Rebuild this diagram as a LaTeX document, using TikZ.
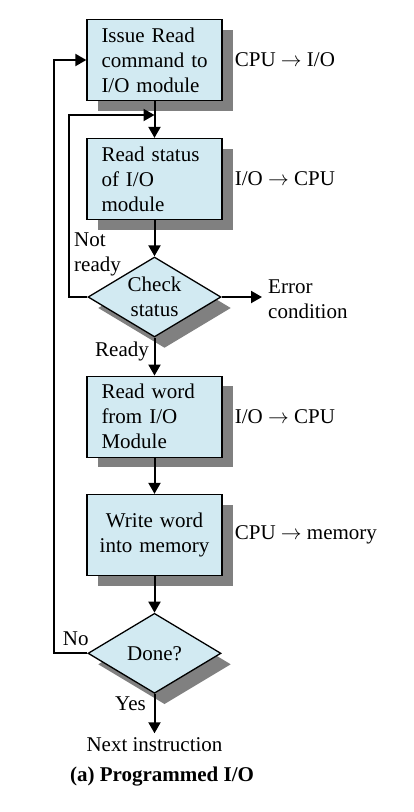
\documentclass[tikz,border=0pt]{standalone}
\usepackage{fontspec}
\setmainfont{Liberation Serif}
\usetikzlibrary{shapes.geometric,shadows,arrows.meta}
\definecolor{boxfill}{RGB}{210,234,242}
\definecolor{shadowgray}{RGB}{128,128,128}
\begin{document}
\begin{tikzpicture}[x=1pt,y=-1pt,
  every node/.style={font=\fontsize{21}{25}\selectfont},
  proc/.style={draw=black, line width=1.3pt, fill=boxfill, minimum width=135pt,
    minimum height=81pt, inner sep=0pt, align=left, text width=106pt,
    drop shadow={shadow xshift=11pt, shadow yshift=-10pt, fill=shadowgray, opacity=1}},
  dec/.style={draw=black, line width=1.3pt, fill=boxfill, shape=diamond, aspect=1.67,
    minimum width=133pt, minimum height=80pt, inner sep=0pt, align=center,
    drop shadow={shadow xshift=10pt, shadow yshift=-11pt, fill=shadowgray, opacity=1}},
  lab/.style={inner sep=0pt, align=left},
  arr/.style={line width=2pt, -{Triangle[length=11pt,width=12pt]}}
]
\fill[white] (0,0) rectangle (414,812);
\useasboundingbox (0,0) rectangle (414,812);

% boxes and decisions
\node[proc] (b1) at (154.5,60) {\mbox{Issue Read}\\\mbox{command to}\\\mbox{I/O module}};
\node[proc] (b2) at (154.5,179) {\mbox{Read status}\\\mbox{of I/O}\\\mbox{module}};
\node[dec] (d1) at (154.5,297) {Check\\status};
\node[proc] (b3) at (154.5,416.7) {\mbox{Read word}\\\mbox{from I/O}\\\mbox{Module}};
\node[proc, text width=110pt, align=center] (b4) at (154.5,535) {\mbox{Write word}\\\mbox{into memory}};
\node[dec] (d2) at (154.5,653.3) {Done?};

% right-side labels
\node[lab, anchor=west] (l1) at ([xshift=12pt]b1.east) {CPU $\rightarrow$ I/O};
\node[lab, anchor=west] (l2) at ([xshift=12pt]b2.east) {I/O $\rightarrow$ CPU};
\node[lab, anchor=west] (l3) at ([xshift=12pt]b3.east) {I/O $\rightarrow$ CPU};
\node[lab, anchor=west] (l4) at ([xshift=12pt]b4.east) {CPU $\rightarrow$ memory};

% coordinates
\coordinate (j1) at (154.5,115);
\coordinate (err) at (262,297);
\coordinate (nxt) at (154.5,733.3);

% connectors
\draw[arr] (b1.south) -- (b2.north);
\draw[arr] (b2.south) -- (d1.north);
\draw[arr] (d1.south) -- (b3.north);
\draw[arr] (b3.south) -- (b4.north);
\draw[arr] (b4.south) -- (d2.north);
\draw[arr] (d1.west) -- ++(-18,0) |- (j1);
\draw[arr] (d1.east) -- (err);
\draw[arr] (d2.west) -- ++(-33,0) |- (b1.west);
\draw[arr] (d2.south) -- (nxt);

% connector labels
\node[lab, anchor=west] (lnot) at (74,254.5) {Not\\ready};
\node[lab, anchor=west] (lerr) at (268,299) {Error\\condition};
\node[lab, anchor=base west] (lready) at (95,356.7) {Ready};
\node[lab, anchor=base west] (lno) at (62.7,645) {No};
\node[lab, anchor=base west] (lyes) at (115,710) {Yes};
\node[lab, anchor=base] (lnext) at (154.5,751.7) {Next instruction};
\node[lab, anchor=base] (cap) at (162,781.7) {\bfseries (a) Programmed I/O};
\end{tikzpicture}
\end{document}
